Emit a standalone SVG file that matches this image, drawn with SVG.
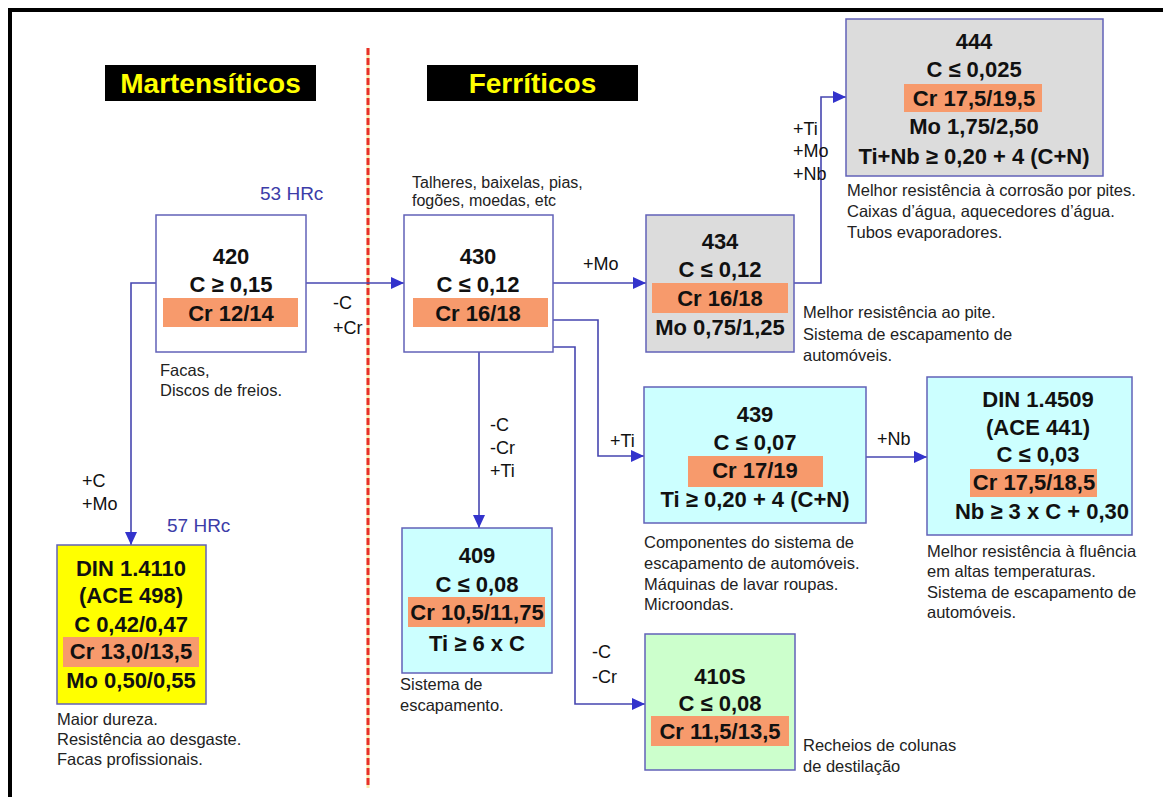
<svg xmlns="http://www.w3.org/2000/svg" width="1163" height="797" viewBox="0 0 1163 797">
<style>
text{font-family:"Liberation Sans",Arial,sans-serif}
.box{stroke:#6262b8;stroke-width:1.5}
.w{fill:#ffffff}.g{fill:#dcdcdc}.c{fill:#ccffff}.y{fill:#ffff00}.gr{fill:#ccffcc}
.or{fill:#f79a6c}
.bt{font-size:22px;font-weight:bold;fill:#111;text-anchor:middle}
.d{font-size:16.5px;fill:#222}
.l{font-size:18px;fill:#111}
.hr{font-size:19px;fill:#3c3ca8}
.ttl{font-size:28px;font-weight:bold;fill:#ffff00;text-anchor:middle}
.cn{fill:none;stroke:#4646b0;stroke-width:1.6}
</style>
<defs>
<marker id="ah" markerUnits="userSpaceOnUse" markerWidth="14" markerHeight="12" refX="13" refY="6" orient="auto">
<path d="M0,0 L13,6 L0,12 z" fill="#3333cc"/>
</marker>
</defs>
<rect width="1163" height="797" fill="#ffffff"/>
<g id="frame">
<line x1="8" y1="10" x2="1163" y2="10" stroke="#000" stroke-width="4"/>
<line x1="10" y1="8" x2="10" y2="797" stroke="#000" stroke-width="4"/>
</g>
<g id="divider">
<line x1="368" y1="48" x2="368" y2="788" stroke="#f7e9a8" stroke-width="3"/>
<line x1="368" y1="48" x2="368" y2="788" stroke="#e8302a" stroke-width="3" stroke-dasharray="7 3"/>
</g>
<g id="title-martensiticos">
<rect x="105" y="65" width="211" height="36" fill="#000"/>
<text class="ttl" x="210.5" y="93">Martensíticos</text>
</g>
<g id="title-ferriticos">
<rect x="427" y="65" width="211" height="36" fill="#000"/>
<text class="ttl" x="532.5" y="93">Ferríticos</text>
</g>
<g id="connectors">
<path class="cn" d="M306,283 H404" marker-end="url(#ah)"/>
<path class="cn" d="M156,283 H131 V545" marker-end="url(#ah)"/>
<path class="cn" d="M553,283 H646" marker-end="url(#ah)"/>
<path class="cn" d="M794,283 H821 V97 H846" marker-end="url(#ah)"/>
<path class="cn" d="M553,320 H598 V456 H644" marker-end="url(#ah)"/>
<path class="cn" d="M553,347 H575 V704 H645" marker-end="url(#ah)"/>
<path class="cn" d="M479,352 V528" marker-end="url(#ah)"/>
<path class="cn" d="M866,457 H927" marker-end="url(#ah)"/>
<text class="l" x="333" y="309">-C</text>
<text class="l" x="333" y="334">+Cr</text>
<text class="l" x="82" y="487">+C</text>
<text class="l" x="82" y="510">+Mo</text>
<text class="l" x="583" y="270">+Mo</text>
<text class="l" x="793" y="135">+Ti</text>
<text class="l" x="793" y="157">+Mo</text>
<text class="l" x="793" y="180">+Nb</text>
<text class="l" x="490" y="431">-C</text>
<text class="l" x="490" y="454">-Cr</text>
<text class="l" x="490" y="477">+Ti</text>
<text class="l" x="610" y="447">+Ti</text>
<text class="l" x="877" y="445">+Nb</text>
<text class="l" x="592" y="658">-C</text>
<text class="l" x="592" y="683">-Cr</text>
</g>
<g id="n420">
<rect class="box w" x="156" y="215" width="150" height="137"/>
<rect class="or" x="163" y="298" width="135" height="29"/>
<text class="bt" x="231" y="264">420</text>
<text class="bt" x="231" y="292">C ≥ 0,15</text>
<text class="bt" x="231" y="321">Cr 12/14</text>
<text class="hr" x="260" y="200">53 HRc</text>
<text class="d" x="160" y="376">Facas,</text>
<text class="d" x="160" y="396">Discos de freios.</text>
</g>
<g id="n430">
<rect class="box w" x="404" y="215" width="149" height="137"/>
<rect class="or" x="413" y="298" width="135" height="29"/>
<text class="bt" x="478" y="264">430</text>
<text class="bt" x="478" y="292">C ≤ 0,12</text>
<text class="bt" x="478" y="321">Cr 16/18</text>
<text class="d" x="412" y="188" style="font-size:16px">Talheres, baixelas, pias,</text>
<text class="d" x="412" y="206" style="font-size:16px">fogões, moedas, etc</text>
</g>
<g id="n434">
<rect class="box g" x="646" y="215" width="148" height="137"/>
<rect class="or" x="652" y="283" width="136" height="30"/>
<text class="bt" x="720" y="249">434</text>
<text class="bt" x="720" y="277">C ≤ 0,12</text>
<text class="bt" x="720" y="306">Cr 16/18</text>
<text class="bt" x="720" y="335">Mo 0,75/1,25</text>
<text class="d" x="803" y="318">Melhor resistência ao pite.</text>
<text class="d" x="803" y="340">Sistema de escapamento de</text>
<text class="d" x="803" y="361">automóveis.</text>
</g>
<g id="n444">
<rect class="box g" x="846" y="19" width="257" height="157"/>
<rect class="or" x="904" y="84" width="138" height="28"/>
<text class="bt" x="974" y="49">444</text>
<text class="bt" x="974" y="77">C ≤ 0,025</text>
<text class="bt" x="974" y="106">Cr 17,5/19,5</text>
<text class="bt" x="974" y="134">Mo 1,75/2,50</text>
<text class="bt" x="974" y="164">Ti+Nb ≥ 0,20 + 4 (C+N)</text>
<text class="d" x="847" y="196">Melhor resistência à corrosão por pites.</text>
<text class="d" x="847" y="217">Caixas d’água, aquecedores d’água.</text>
<text class="d" x="847" y="238">Tubos evaporadores.</text>
</g>
<g id="nDIN14110">
<rect class="box y" x="57" y="545" width="149" height="159"/>
<rect class="or" x="63" y="637" width="136" height="30"/>
<text class="bt" x="131" y="576">DIN 1.4110</text>
<text class="bt" x="131" y="603">(ACE 498)</text>
<text class="bt" x="131" y="632">C 0,42/0,47</text>
<text class="bt" x="131" y="659">Cr 13,0/13,5</text>
<text class="bt" x="131" y="688">Mo 0,50/0,55</text>
<text class="hr" x="167" y="532">57 HRc</text>
<text class="d" x="57" y="725">Maior dureza.</text>
<text class="d" x="57" y="745">Resistência ao desgaste.</text>
<text class="d" x="57" y="765">Facas profissionais.</text>
</g>
<g id="n409">
<rect class="box c" x="402" y="528" width="150" height="145"/>
<rect class="or" x="408" y="597" width="137" height="30"/>
<text class="bt" x="477" y="563">409</text>
<text class="bt" x="477" y="592">C ≤ 0,08</text>
<text class="bt" x="477" y="620">Cr 10,5/11,75</text>
<text class="bt" x="477" y="651">Ti ≥ 6 x C</text>
<text class="d" x="400" y="690">Sistema de</text>
<text class="d" x="400" y="711">escapamento.</text>
</g>
<g id="n439">
<rect class="box c" x="644" y="387" width="222" height="136"/>
<rect class="or" x="688" y="456" width="135" height="31"/>
<text class="bt" x="755" y="422">439</text>
<text class="bt" x="755" y="450">C ≤ 0,07</text>
<text class="bt" x="755" y="478">Cr 17/19</text>
<text class="bt" x="755" y="507">Ti ≥ 0,20 + 4 (C+N)</text>
<text class="d" x="644" y="548">Componentes do sistema de</text>
<text class="d" x="644" y="569">escapamento de automóveis.</text>
<text class="d" x="644" y="590">Máquinas de lavar roupas.</text>
<text class="d" x="644" y="610">Microondas.</text>
</g>
<g id="nDIN14509">
<rect class="box c" x="927" y="377" width="205" height="158"/>
<rect class="or" x="970" y="469" width="127" height="28"/>
<text class="bt" x="1038" y="407">DIN 1.4509</text>
<text class="bt" x="1038" y="435">(ACE 441)</text>
<text class="bt" x="1038" y="462">C ≤ 0,03</text>
<text class="bt" x="1034" y="490">Cr 17,5/18,5</text>
<text class="bt" x="1042" y="519">Nb ≥ 3 x C + 0,30</text>
<text class="d" x="927" y="557">Melhor resistência à fluência</text>
<text class="d" x="927" y="577">em altas temperaturas.</text>
<text class="d" x="927" y="598">Sistema de escapamento de</text>
<text class="d" x="927" y="618">automóveis.</text>
</g>
<g id="n410S">
<rect class="box gr" x="645" y="634" width="150" height="136"/>
<rect class="or" x="651" y="716" width="138" height="30"/>
<text class="bt" x="720" y="684">410S</text>
<text class="bt" x="720" y="711">C ≤ 0,08</text>
<text class="bt" x="720" y="739">Cr 11,5/13,5</text>
<text class="d" x="803" y="751">Recheios de colunas</text>
<text class="d" x="803" y="772">de destilação</text>
</g>
</svg>
